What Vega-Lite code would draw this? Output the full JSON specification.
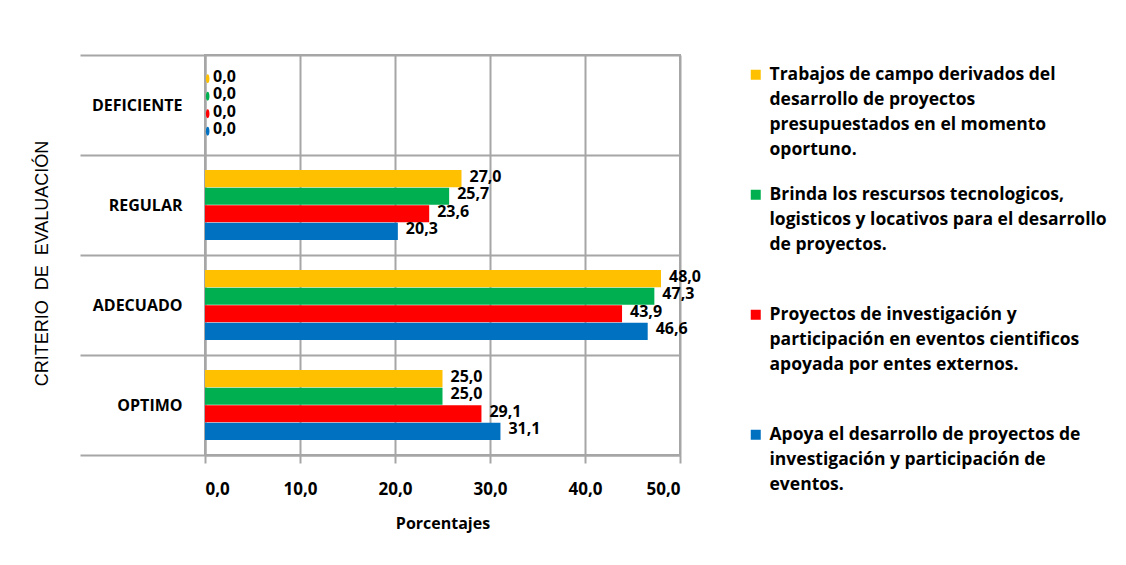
{
  "$schema": "https://vega.github.io/schema/vega-lite/v6.json",
  "width": 475,
  "height": 400,
  "autosize": {"type": "none"},
  "padding": {"left": 205, "top": 55, "right": 446, "bottom": 110},
  "background": "white",
  "config": {
    "locale": {"number": {"decimal": ",", "thousands": ".", "grouping": [3], "currency": ["", ""]}},
    "view": {"stroke": "#a6a6a6", "strokeWidth": 2},
    "font": "Open Sans",
    "style": {"guide-label": {"lineHeight": 25}}
  },
  "data": {
    "values": [
      {"criterio": "DEFICIENTE", "serie": "Trabajos de campo derivados del desarrollo de proyectos presupuestados en el momento oportuno.", "valor": 0.0},
      {"criterio": "DEFICIENTE", "serie": "Brinda los rescursos tecnologicos, logisticos y locativos para el desarrollo de proyectos.", "valor": 0.0},
      {"criterio": "DEFICIENTE", "serie": "Proyectos de investigación y participación en eventos cientificos apoyada por entes externos.", "valor": 0.0},
      {"criterio": "DEFICIENTE", "serie": "Apoya el desarrollo de proyectos de investigación y participación de eventos.", "valor": 0.0},
      {"criterio": "REGULAR", "serie": "Trabajos de campo derivados del desarrollo de proyectos presupuestados en el momento oportuno.", "valor": 27.0},
      {"criterio": "REGULAR", "serie": "Brinda los rescursos tecnologicos, logisticos y locativos para el desarrollo de proyectos.", "valor": 25.7},
      {"criterio": "REGULAR", "serie": "Proyectos de investigación y participación en eventos cientificos apoyada por entes externos.", "valor": 23.6},
      {"criterio": "REGULAR", "serie": "Apoya el desarrollo de proyectos de investigación y participación de eventos.", "valor": 20.3},
      {"criterio": "ADECUADO", "serie": "Trabajos de campo derivados del desarrollo de proyectos presupuestados en el momento oportuno.", "valor": 48.0},
      {"criterio": "ADECUADO", "serie": "Brinda los rescursos tecnologicos, logisticos y locativos para el desarrollo de proyectos.", "valor": 47.3},
      {"criterio": "ADECUADO", "serie": "Proyectos de investigación y participación en eventos cientificos apoyada por entes externos.", "valor": 43.9},
      {"criterio": "ADECUADO", "serie": "Apoya el desarrollo de proyectos de investigación y participación de eventos.", "valor": 46.6},
      {"criterio": "OPTIMO", "serie": "Trabajos de campo derivados del desarrollo de proyectos presupuestados en el momento oportuno.", "valor": 25.0},
      {"criterio": "OPTIMO", "serie": "Brinda los rescursos tecnologicos, logisticos y locativos para el desarrollo de proyectos.", "valor": 25.0},
      {"criterio": "OPTIMO", "serie": "Proyectos de investigación y participación en eventos cientificos apoyada por entes externos.", "valor": 29.1},
      {"criterio": "OPTIMO", "serie": "Apoya el desarrollo de proyectos de investigación y participación de eventos.", "valor": 31.1}
    ]
  },
  "encoding": {
    "y": {
      "field": "criterio",
      "type": "nominal",
      "sort": ["DEFICIENTE", "REGULAR", "ADECUADO", "OPTIMO"],
      "scale": {"paddingInner": 0, "paddingOuter": 0},
      "axis": {
        "title": "CRITERIO\u00a0 DE\u00a0 EVALUACIÓN",
        "titleFont": "Liberation Sans",
        "titleFontSize": 18,
        "titleFontWeight": "normal",
        "titleColor": "black",
        "titleX": -163,
        "titleY": 208,
        "titleAngle": 270,
        "titleAlign": "center",
        "titleBaseline": "middle",
        "tickBand": "extent",
        "tickSize": 125,
        "tickColor": "#a6a6a6",
        "tickWidth": 2,
        "grid": true,
        "gridColor": "#a6a6a6",
        "gridWidth": 2,
        "domainColor": "#a6a6a6",
        "domainWidth": 2,
        "labelPadding": -102,
        "labelFontSize": 16,
        "labelFontWeight": "bold",
        "labelColor": "black"
      }
    },
    "yOffset": {
      "field": "serie",
      "type": "nominal",
      "sort": [
        "Trabajos de campo derivados del desarrollo de proyectos presupuestados en el momento oportuno.",
        "Brinda los rescursos tecnologicos, logisticos y locativos para el desarrollo de proyectos.",
        "Proyectos de investigación y participación en eventos cientificos apoyada por entes externos.",
        "Apoya el desarrollo de proyectos de investigación y participación de eventos."
      ],
      "scale": {"paddingInner": 0.02, "paddingOuter": 0.86}
    },
    "x": {
      "field": "valor",
      "type": "quantitative",
      "scale": {"domain": [0, 50]},
      "axis": {
        "values": [0, 10, 20, 30, 40, 50],
        "format": ".1f",
        "title": "Porcentajes",
        "titleFontSize": 16,
        "titleFontWeight": "bold",
        "titleColor": "black",
        "titlePadding": 18,
        "grid": true,
        "gridColor": "#a6a6a6",
        "gridWidth": 2,
        "domainColor": "#a6a6a6",
        "domainWidth": 2,
        "tickColor": "#a6a6a6",
        "tickWidth": 2,
        "tickSize": 8,
        "labelPadding": 18,
        "labelFontSize": 17,
        "labelFontWeight": "bold",
        "labelColor": "black"
      }
    }
  },
  "layer": [
    {
      "mark": {"type": "bar"},
      "encoding": {
        "color": {
          "field": "serie",
          "type": "nominal",
          "scale": {
            "domain": [
              "Trabajos de campo derivados del desarrollo de proyectos presupuestados en el momento oportuno.",
              "Brinda los rescursos tecnologicos, logisticos y locativos para el desarrollo de proyectos.",
              "Proyectos de investigación y participación en eventos cientificos apoyada por entes externos.",
              "Apoya el desarrollo de proyectos de investigación y participación de eventos."
            ],
            "range": ["#FFC000", "#00B050", "#FF0000", "#0070C0"]
          },
          "legend": {
            "title": null,
            "orient": "none",
            "legendX": 542,
            "legendY": 11,
            "symbolType": "square",
            "symbolSize": 100,
            "symbolStrokeWidth": 0,
            "labelFontSize": 17.5,
            "labelFontWeight": "bold",
            "labelColor": "black",
            "labelLimit": 400,
            "labelOffset": 5,
            "rowPadding": 1,
            "labelExpr": "[['Trabajos de campo derivados del','desarrollo de proyectos','presupuestados en el momento','oportuno.',''],['Brinda los rescursos tecnologicos,','logisticos y locativos para el desarrollo','de proyectos.','',''],['Proyectos de investigación y','participación en eventos cientificos','apoyada por entes externos.','',''],['Apoya el desarrollo de proyectos de','investigación y participación de','eventos.','','']][datum.index]"
          }
        }
      }
    },
    {
      "transform": [{"filter": "datum.valor == 0"}],
      "mark": {"type": "point", "filled": true, "shape": "M0.6,-1A0.4,1,0,1,1,0.6,1A0.4,1,0,1,1,0.6,-1Z", "size": 80, "opacity": 1},
      "encoding": {
        "color": {"field": "serie", "type": "nominal"}
      }
    },
    {
      "mark": {"type": "text", "align": "left", "baseline": "middle", "dx": 8, "dy": -2, "fontSize": 16, "fontWeight": "bold", "color": "black"},
      "encoding": {
        "text": {"field": "valor", "type": "quantitative", "format": ".1f"}
      }
    }
  ]
}
